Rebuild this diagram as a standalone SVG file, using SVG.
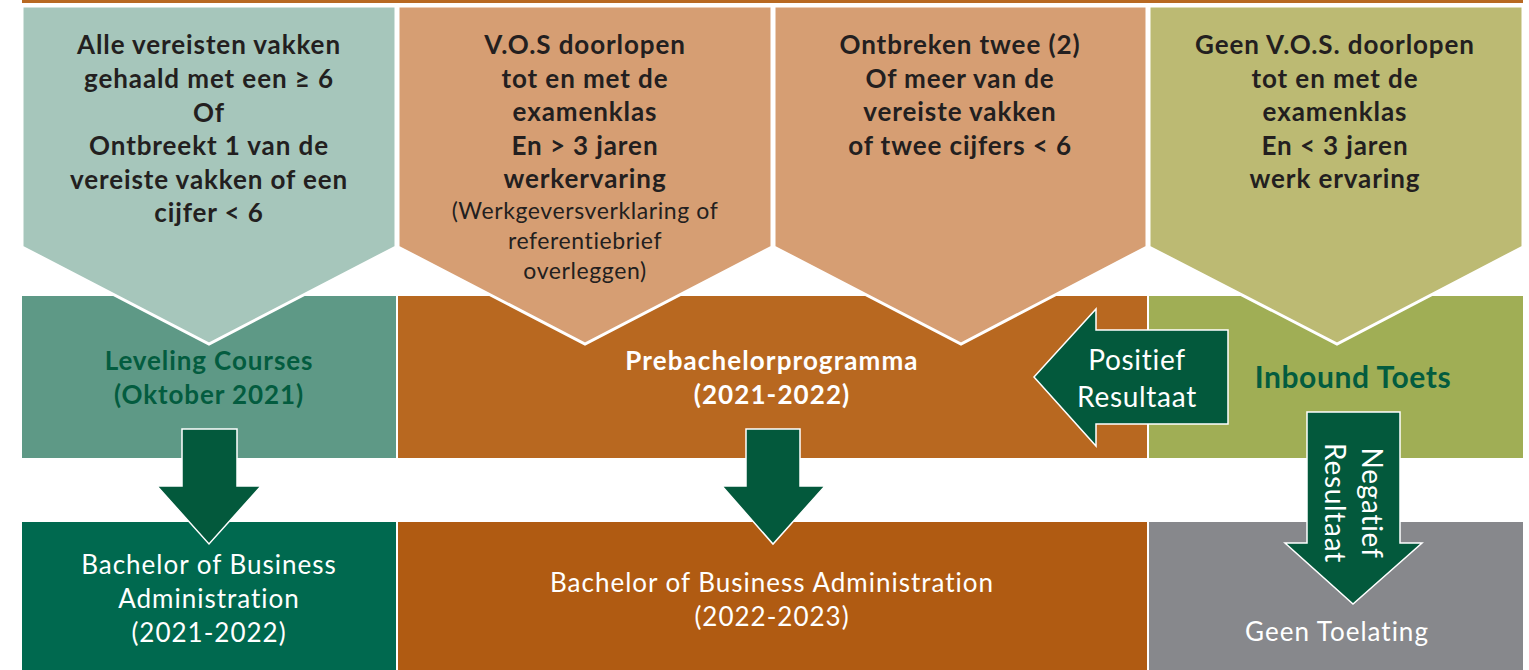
<svg xmlns="http://www.w3.org/2000/svg" width="1529" height="670" viewBox="0 0 1529 670">
<style>
.t{font-family:Lato,"Open Sans","Liberation Sans",sans-serif;text-anchor:middle}
.hd{font-size:26px;font-weight:700;fill:#231f20;letter-spacing:0.9px}
.sm{font-size:23px;font-weight:400;fill:#231f20;letter-spacing:0.6px}
.pent{stroke:#fff;stroke-width:3;stroke-linejoin:miter}
.arr{fill:#03593c;stroke:#fff;stroke-width:1.5}
.wl{font-size:26px;font-weight:400;fill:#fff;letter-spacing:1px}
.gl{font-size:26px;font-weight:700;fill:#035c3f;letter-spacing:0.9px}
.pb{font-size:26px;font-weight:700;fill:#fff;letter-spacing:1.1px}
.ar{font-size:28px;font-weight:400;fill:#fff;letter-spacing:0.7px}
</style>
<rect width="1529" height="670" fill="#fff"/>
<rect x="22" y="0" width="1501" height="3" fill="#b86922"/>

<g id="mid-leveling">
<rect x="22" y="296" width="374" height="162" fill="#5e9986"/>
<text class="t gl" x="209" y="370">Leveling Courses</text>
<text class="t gl" x="209" y="404">(Oktober 2021)</text>
</g>
<g id="mid-prebachelor">
<rect x="398" y="296" width="749" height="162" fill="#b86820"/>
<text class="t pb" x="772" y="370">Prebachelorprogramma</text>
<text class="t pb" x="772" y="404">(2021-2022)</text>
</g>
<g id="mid-inbound">
<rect x="1149" y="296" width="374" height="162" fill="#a0ae55"/>
<text class="t" x="1353" y="388" font-size="30" font-weight="700" fill="#035c3f" letter-spacing="0.6">Inbound Toets</text>
</g>

<g id="bot-bba1">
<rect x="22" y="522" width="374" height="148" fill="#00694f"/>
<text class="t wl" x="209" y="574">Bachelor of Business</text>
<text class="t wl" x="209" y="608">Administration</text>
<text class="t wl" x="209" y="642">(2021-2022)</text>
</g>
<g id="bot-bba2">
<rect x="398" y="522" width="749" height="148" fill="#b05b12"/>
<text class="t wl" x="772" y="592">Bachelor of Business Administration</text>
<text class="t wl" x="772" y="626">(2022-2023)</text>
</g>
<g id="bot-geen">
<rect x="1149" y="522" width="374" height="148" fill="#87888c"/>
<text class="t wl" x="1337" y="641">Geen Toelating</text>
</g>

<g id="cond1">
<path class="pent" d="M22,6 H396 V247 L209,344 L22,247 Z" fill="#a6c6bb"/>
<text class="t hd" x="209" y="54">Alle vereisten vakken</text>
<text class="t hd" x="209" y="88">gehaald met een ≥ 6</text>
<text class="t hd" x="209" y="122">Of</text>
<text class="t hd" x="209" y="155">Ontbreekt 1 van de</text>
<text class="t hd" x="209" y="189">vereiste vakken of een</text>
<text class="t hd" x="209" y="222">cijfer &lt; 6</text>
</g>
<g id="cond2">
<path class="pent" d="M398,6 H772 V247 L585,344 L398,247 Z" fill="#d69e73"/>
<text class="t hd" x="585" y="54">V.O.S doorlopen</text>
<text class="t hd" x="585" y="88">tot en met de</text>
<text class="t hd" x="585" y="121">examenklas</text>
<text class="t hd" x="585" y="155">En &gt; 3 jaren</text>
<text class="t hd" x="585" y="188">werkervaring</text>
<text class="t sm" x="585" y="219">(Werkgeversverklaring of</text>
<text class="t sm" x="585" y="249">referentiebrief</text>
<text class="t sm" x="585" y="279">overleggen)</text>
</g>
<g id="cond3">
<path class="pent" d="M774,6 H1147 V247 L961,344 L774,247 Z" fill="#d69e73"/>
<text class="t hd" x="960" y="54">Ontbreken twee (2)</text>
<text class="t hd" x="960" y="88">Of meer van de</text>
<text class="t hd" x="960" y="121">vereiste vakken</text>
<text class="t hd" x="960" y="155">of twee cijfers &lt; 6</text>
</g>
<g id="cond4">
<path class="pent" d="M1149,6 H1523 V247 L1337,344 L1149,247 Z" fill="#bcba73"/>
<text class="t hd" x="1335" y="54">Geen V.O.S. doorlopen</text>
<text class="t hd" x="1335" y="88">tot en met de</text>
<text class="t hd" x="1335" y="121">examenklas</text>
<text class="t hd" x="1335" y="155">En &lt; 3 jaren</text>
<text class="t hd" x="1335" y="188">werk ervaring</text>
</g>

<g id="connectors">
<path class="arr" d="M182,429 H237 V486 H261 L209,544 L157,486 H182 Z"/>
<path class="arr" d="M746,429 H800 V486 H825 L773,544 L722,486 H746 Z"/>
<path class="arr" d="M1228,330 V424 H1096 V446 L1034,377 L1096,309 V330 Z"/>
<text class="t ar" x="1137" y="370">Positief</text>
<text class="t ar" x="1137" y="407">Resultaat</text>
<path class="arr" d="M1307,412 H1400 V543 H1422 L1353,604 L1285,543 H1307 Z"/>
<text class="t ar" transform="translate(1362,503) rotate(90)">Negatief</text>
<text class="t ar" transform="translate(1325,503) rotate(90)">Resultaat</text>
</g>
</svg>
